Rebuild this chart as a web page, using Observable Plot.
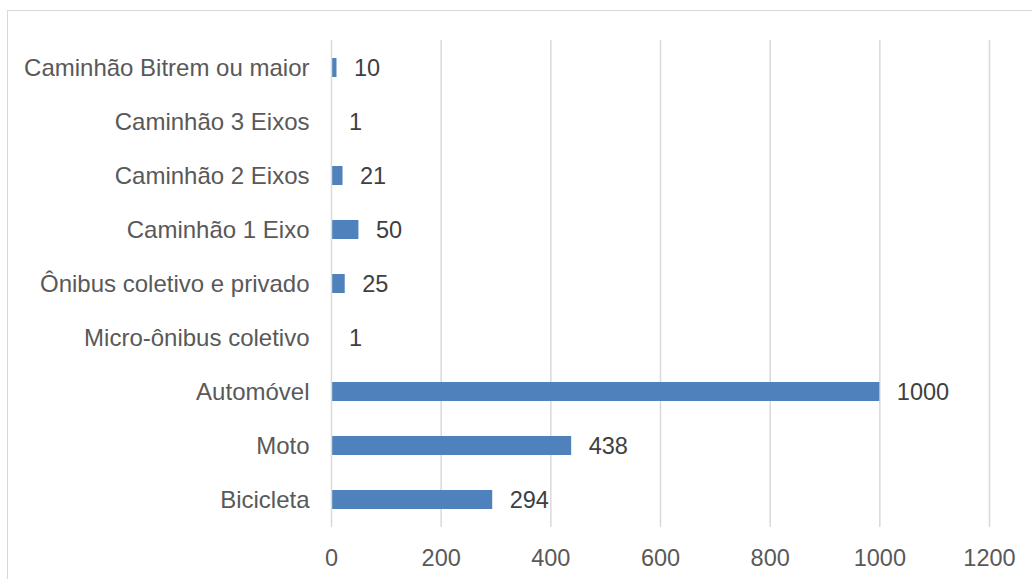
<!DOCTYPE html>
<html><head><meta charset="utf-8">
<script src="https://cdn.jsdelivr.net/npm/d3@7"></script>
<script src="https://cdn.jsdelivr.net/npm/@observablehq/plot@0.6"></script>
<style>
body{margin:0;background:#fff;overflow:hidden;width:1032px;height:579px;position:relative;font-family:"Liberation Sans",Arial,sans-serif;}
#border{position:absolute;left:7px;top:10px;width:1040px;height:600px;border:1px solid #d9d9d9;box-sizing:border-box;}
#chart{position:absolute;left:0;top:0;}
</style></head>
<body><div id="border"></div><div id="chart"></div>
<script>
const categories = ["Caminhão Bitrem ou maior","Caminhão 3 Eixos","Caminhão 2 Eixos","Caminhão 1 Eixo","Ônibus coletivo e privado","Micro-ônibus coletivo","Automóvel","Moto","Bicicleta"];
const values = [10, 1, 21, 50, 25, 1, 1000, 438, 294];
const xTicks = [0, 200, 400, 600, 800, 1000, 1200];
const data = categories.map((c, i) => ({category: c, value: values[i]}));

const chart = Plot.plot({
  width: 1032,
  height: 579,
  marginLeft: 331,
  marginRight: 43,
  marginTop: 40,
  marginBottom: 52,
  style: {fontFamily: '"Liberation Sans", Arial, sans-serif', fontSize: "24px", background: "transparent", overflow: "visible"},
  x: {domain: [0, 1200], label: null},
  y: {domain: categories, label: null, paddingInner: 0.65, paddingOuter: 0.325},
  marks: [
    Plot.ruleX(xTicks.filter(t => t !== 0), {stroke: "#d9d9d9", strokeWidth: 1.5}),
    Plot.barX(data, {x: "value", y: "category", fill: "#4f81bd"}),
    Plot.ruleX([0], {stroke: "#d9d9d9", strokeWidth: 1.5}),
    Plot.text(data, {x: "value", y: "category", text: d => String(d.value), textAnchor: "start", dx: 17, fill: "#404040", fontSize: 23.5}),
    Plot.axisX({ticks: xTicks, tickFormat: d => String(d), tickSize: 0, tickPadding: 22, fill: "#595959", fontSize: 23.5, label: null}),
    Plot.axisY({tickSize: 0, tickPadding: 22, fill: "#595959", fontSize: 24, label: null})
  ]
});
document.getElementById("chart").appendChild(chart);
</script></body></html>
